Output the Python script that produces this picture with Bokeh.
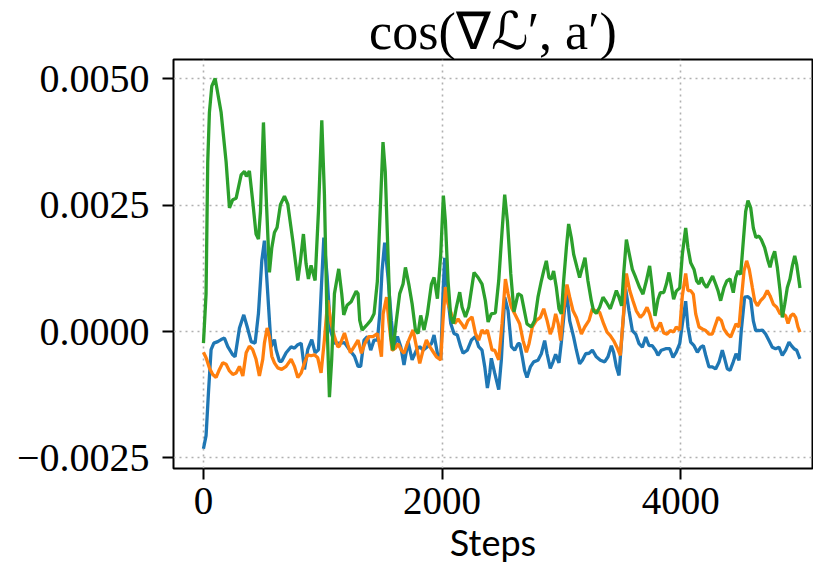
from bokeh.plotting import figure
from bokeh.models import FixedTicker, CustomJSTickFormatter, Range1d, Title
from bokeh.embed import file_html
from bokeh.resources import INLINE

title_text = "cos(\u2207\u2112\u2032, a\u2032)"
x_label = "Steps"
x_ticks = [0, 2000, 4000]
y_ticks = [-0.0025, 0.0, 0.0025, 0.005]

green_steps = [0, 22, 36, 50, 70, 98, 148, 190, 218, 246, 274, 316, 344, 360, 385, 413, 441, 461, 478, 503,
               525, 553, 573, 595, 617, 645, 679, 707, 749, 791, 813, 838, 860, 880, 902, 936, 964, 992, 1014,
               1037, 1056, 1075, 1098, 1134, 1159, 1176, 1204, 1238, 1280, 1296, 1310, 1330, 1366, 1402, 1430,
               1458, 1478, 1505, 1524, 1547, 1570, 1589, 1617, 1645, 1673, 1693, 1721, 1749, 1777, 1799, 1821,
               1849, 1877, 1911, 1933, 1961, 1989, 2011, 2028, 2050, 2073, 2095, 2120, 2148, 2168, 2196, 2224,
               2268, 2302, 2335, 2363, 2386, 2413, 2447, 2475, 2503, 2525, 2548, 2576, 2603, 2637, 2665, 2712,
               2748, 2776, 2804, 2832, 2852, 2874, 2896, 2916, 2935, 2958, 2980, 3000, 3019, 3042, 3061, 3084,
               3103, 3131, 3153, 3176, 3198, 3223, 3251, 3270, 3293, 3321, 3349, 3377, 3410, 3433, 3461, 3483,
               3505, 3522, 3545, 3567, 3595, 3623, 3656, 3684, 3712, 3740, 3762, 3785, 3810, 3830, 3858, 3880,
               3902, 3924, 3941, 3963, 3992, 4014, 4042, 4061, 4084, 4112, 4134, 4154, 4173, 4196, 4218, 4246,
               4268, 4293, 4313, 4335, 4363, 4386, 4414, 4441, 4461, 4481, 4503, 4525, 4545, 4564, 4587, 4609,
               4631, 4656, 4676, 4704, 4732, 4749, 4768, 4788, 4810, 4833, 4852, 4872, 4894, 4916, 4936, 4956,
               4972, 4992, 5000]
green = [-0.00023, 0.00075, 0.00336, 0.00434, 0.00486, 0.00501, 0.00434, 0.00336, 0.00245, 0.00261, 0.00264,
         0.00310, 0.00317, 0.00307, 0.00318, 0.00258, 0.00193, 0.00183, 0.00238, 0.00414, 0.00271, 0.00117,
         0.00166, 0.00196, 0.00206, 0.00251, 0.00268, 0.00252, 0.00180, 0.00101, 0.00140, 0.00193, 0.00134,
         0.00104, 0.00131, 0.00101, 0.00238, 0.00418, 0.00271, 0.00010, -0.00130, -0.00055, 0.00075, 0.00124,
         0.00075, 0.00033, 0.00052, 0.00059, 0.00080, 0.00075, 0.00022, 0.00003, 0.00012, 0.00022, 0.00035,
         0.00100, 0.00218, 0.00375, 0.00316, 0.00153, -0.00010, -0.00037, 0.00022, 0.00075, 0.00094, 0.00127,
         0.00094, 0.00055, 0.00003, -0.00004, 0.00032, 0.00003, 0.00035, 0.00094, 0.00107, 0.00065, 0.00153,
         0.00269, 0.00218, 0.00101, 0.00029, 0.00016, 0.00048, 0.00078, 0.00048, 0.00029, 0.00048, 0.00117,
         0.00107, 0.00094, 0.00061, 0.00019, 0.00035, 0.00037, 0.00101, 0.00199, 0.00271, 0.00218, 0.00114,
         0.00039, 0.00075, 0.00071, 0.00015, 0.00009, 0.00022, 0.00068, 0.00100, 0.00120, 0.00140, 0.00107,
         0.00104, 0.00120, 0.00087, 0.00045, 0.00035, 0.00100, 0.00166, 0.00213, 0.00185, 0.00153, 0.00127,
         0.00107, 0.00127, 0.00146, 0.00100, 0.00061, 0.00041, 0.00036, 0.00048, 0.00068, 0.00058, 0.00045,
         0.00061, 0.00081, 0.00068, 0.00051, 0.00113, 0.00182, 0.00156, 0.00123, 0.00107, 0.00087, 0.00074,
         0.00100, 0.00130, 0.00087, 0.00031, 0.00064, 0.00077, 0.00077, 0.00094, 0.00117, 0.00087, 0.00064,
         0.00080, 0.00086, 0.00153, 0.00205, 0.00166, 0.00136, 0.00123, 0.00100, 0.00094, 0.00107, 0.00094,
         0.00087, 0.00100, 0.00110, 0.00094, 0.00081, 0.00061, 0.00087, 0.00100, 0.00104, 0.00077, 0.00107,
         0.00120, 0.00113, 0.00179, 0.00238, 0.00259, 0.00245, 0.00205, 0.00186, 0.00189, 0.00182, 0.00166,
         0.00140, 0.00127, 0.00146, 0.00159, 0.00127, 0.00081, 0.00028, 0.00054, 0.00087, 0.00104, 0.00130,
         0.00150, 0.00133, 0.00100, 0.00086]

blue_steps = [0, 22, 42, 64, 87, 120, 148, 176, 204, 246, 265, 302, 338, 366, 400, 433, 461, 489, 511, 539,
              567, 595, 609, 637, 656, 693, 735, 763, 791, 819, 847, 874, 908, 936, 964, 986, 1009, 1037, 1064,
              1098, 1126, 1154, 1182, 1224, 1266, 1296, 1318, 1346, 1374, 1402, 1430, 1458, 1478, 1497, 1519,
              1547, 1575, 1598, 1626, 1654, 1681, 1715, 1749, 1785, 1813, 1841, 1877, 1911, 1933, 1961, 1989,
              2008, 2022, 2045, 2073, 2100, 2128, 2156, 2176, 2212, 2246, 2280, 2307, 2335, 2358, 2380, 2400,
              2413, 2441, 2475, 2497, 2525, 2553, 2581, 2609, 2637, 2651, 2673, 2692, 2712, 2740, 2768, 2804,
              2832, 2860, 2880, 2907, 2930, 2952, 2980, 3000, 3028, 3047, 3070, 3103, 3126, 3153, 3176, 3204,
              3232, 3260, 3293, 3327, 3363, 3391, 3419, 3438, 3461, 3483, 3511, 3539, 3567, 3595, 3623, 3651,
              3679, 3707, 3735, 3762, 3790, 3810, 3838, 3874, 3908, 3936, 3963, 3992, 4014, 4042, 4061, 4084,
              4112, 4140, 4168, 4190, 4210, 4237, 4265, 4293, 4321, 4349, 4369, 4391, 4414, 4441, 4464, 4489,
              4508, 4536, 4564, 4587, 4609, 4629, 4657, 4685, 4712, 4740, 4768, 4796, 4824, 4852, 4880, 4908,
              4928, 4950, 4972, 5000]
blue = [-0.00232, -0.00206, -0.00121, -0.00036, -0.00023, -0.00020, -0.00016, -0.00013, -0.00030, -0.00046,
        -0.00050, 0.00007, 0.00033, 0.00010, -0.00020, -0.00023, 0.00036, 0.00140, 0.00180, 0.00075, -0.00030,
        -0.00016, -0.00036, -0.00059, -0.00059, -0.00042, -0.00030, -0.00033, -0.00026, -0.00023, -0.00075,
        -0.00036, -0.00016, -0.00042, -0.00036, 0.00075, 0.00186, 0.00108, 0.00003, -0.00023, -0.00023,
        -0.00023, -0.00022, -0.00036, -0.00049, -0.00069, -0.00069, -0.00017, -0.00010, -0.00037, -0.00017,
        -0.00017, 0.00035, 0.00120, 0.00176, 0.00107, 0.00022, -0.00030, -0.00010, -0.00030, -0.00066,
        -0.00020, -0.00056, -0.00037, -0.00030, -0.00037, -0.00030, -0.00024, -0.00007, -0.00043, -0.00056,
        0.00075, 0.00146, 0.00075, 0.00016, -0.00004, -0.00007, -0.00030, -0.00043, -0.00037, -0.00017,
        -0.00010, -0.00030, -0.00037, -0.00070, -0.00112, -0.00082, -0.00053, -0.00082, -0.00115, -0.00056,
        0.00068, 0.00042, -0.00030, -0.00037, -0.00024, -0.00024, -0.00051, -0.00077, -0.00091, -0.00070,
        -0.00060, -0.00057, -0.00044, -0.00018, -0.00044, -0.00073, -0.00060, -0.00045, -0.00062, -0.00021,
        0.00048, 0.00074, 0.00021, -0.00011, -0.00037, -0.00064, -0.00057, -0.00044, -0.00043, -0.00037,
        -0.00050, -0.00057, -0.00060, -0.00050, -0.00028, -0.00041, -0.00070, -0.00087, 0.00002, 0.00084,
        0.00041, 0.00002, -0.00005, -0.00024, -0.00031, -0.00011, -0.00028, -0.00028, -0.00037, -0.00047,
        -0.00037, -0.00034, -0.00034, -0.00051, -0.00041, -0.00024, 0.00015, 0.00060, 0.00009, -0.00021,
        -0.00028, -0.00041, -0.00031, -0.00028, -0.00047, -0.00070, -0.00070, -0.00074, -0.00061, -0.00037,
        -0.00054, -0.00074, -0.00077, -0.00060, -0.00044, -0.00057, 0.00002, 0.00068, 0.00069, 0.00064,
        0.00021, 0.00002, 0.00002, 0.00003, -0.00005, -0.00018, -0.00031, -0.00034, -0.00031, -0.00047,
        -0.00037, -0.00021, -0.00028, -0.00034, -0.00037, -0.00054]

orange_steps = [0, 22, 50, 78, 106, 134, 162, 190, 218, 246, 274, 302, 330, 358, 385, 413, 441, 469, 497, 511,
                534, 553, 573, 595, 623, 656, 693, 735, 763, 791, 819, 847, 874, 902, 930, 958, 986, 1014, 1042,
                1070, 1098, 1126, 1140, 1182, 1210, 1232, 1266, 1296, 1324, 1352, 1385, 1421, 1458, 1478, 1492,
                1506, 1535, 1553, 1581, 1609, 1631, 1659, 1681, 1709, 1757, 1785, 1813, 1841, 1869, 1897, 1925,
                1953, 1989, 2008, 2028, 2050, 2078, 2106, 2134, 2162, 2190, 2218, 2251, 2280, 2307, 2335, 2358,
                2380, 2400, 2419, 2441, 2475, 2503, 2531, 2553, 2581, 2609, 2637, 2651, 2679, 2707, 2729, 2757,
                2790, 2824, 2852, 2880, 2907, 2930, 2952, 2974, 2994, 3014, 3047, 3070, 3098, 3126, 3168, 3196,
                3232, 3260, 3288, 3321, 3355, 3383, 3410, 3438, 3466, 3494, 3517, 3545, 3573, 3600, 3628, 3662,
                3690, 3718, 3740, 3768, 3796, 3830, 3858, 3885, 3913, 3941, 3963, 3992, 4014, 4042, 4061, 4084,
                4106, 4126, 4154, 4182, 4210, 4237, 4265, 4285, 4313, 4341, 4363, 4391, 4419, 4441, 4464, 4489,
                4508, 4531, 4553, 4575, 4601, 4620, 4643, 4670, 4698, 4726, 4749, 4777, 4805, 4833, 4852, 4880,
                4900, 4922, 4944, 4964, 4983, 5000]
orange = [-0.00041, -0.00052, -0.00072, -0.00085, -0.00091, -0.00075, -0.00062, -0.00065, -0.00078, -0.00085,
          -0.00082, -0.00069, -0.00088, -0.00042, -0.00029, -0.00036, -0.00055, -0.00088, -0.00055, -0.00023,
          0.00007, -0.00010, -0.00049, -0.00062, -0.00072, -0.00075, -0.00069, -0.00055, -0.00069, -0.00091,
          -0.00082, -0.00062, -0.00046, -0.00048, -0.00046, -0.00052, -0.00082, -0.00016, 0.00062, 0.00016,
          -0.00010, -0.00030, -0.00029, -0.00003, -0.00026, -0.00042, -0.00029, -0.00017, -0.00043, -0.00024,
          -0.00010, -0.00010, -0.00004, -0.00030, -0.00050, 0.00035, 0.00068, 0.00022, -0.00037, -0.00033,
          -0.00024, -0.00037, -0.00043, -0.00024, 0.00003, -0.00030, -0.00063, -0.00037, -0.00017, -0.00030,
          -0.00040, -0.00050, -0.00056, 0.00022, 0.00088, 0.00055, 0.00035, 0.00016, 0.00025, 0.00016, 0.00006,
          0.00022, 0.00029, -0.00004, -0.00017, 0.00003, -0.00004, 0.00003, -0.00017, -0.00037, -0.00037,
          -0.00056, 0.00016, 0.00104, 0.00075, 0.00048, 0.00035, 0.00022, 0.00015, -0.00018, -0.00041,
          -0.00024, 0.00009, 0.00022, 0.00028, 0.00045, 0.00022, -0.00005, 0.00009, 0.00035, 0.00015, -0.00018,
          0.00035, 0.00093, 0.00068, 0.00041, 0.00028, -0.00005, 0.00009, 0.00022, 0.00045, 0.00041, 0.00038,
          0.00015, -0.00001, -0.00008, -0.00018, -0.00031, -0.00047, 0.00022, 0.00115, 0.00081, 0.00061,
          0.00041, 0.00028, 0.00035, 0.00048, 0.00035, 0.00009, 0.00002, 0.00018, -0.00003, -0.00005, 0.00002,
          -0.00001, 0.00009, 0.00003, 0.00071, 0.00115, 0.00081, 0.00081, 0.00074, 0.00035, 0.00009, 0.00005,
          0.00002, -0.00005, -0.00005, 0.00009, 0.00028, 0.00022, 0.00005, -0.00005, -0.00011, 0.00002,
          0.00015, 0.00009, 0.00061, 0.00120, 0.00140, 0.00123, 0.00087, 0.00061, 0.00051, 0.00061, 0.00068,
          0.00081, 0.00071, 0.00054, 0.00048, 0.00035, 0.00036, 0.00031, 0.00016, 0.00031, 0.00035, 0.00028,
          0.00009, -0.00001]

p = figure(width=813, height=566, output_backend="svg", toolbar_location=None,
           x_range=Range1d(-251, 5105), y_range=Range1d(-0.002712, 0.005386),
           min_border_left=173, min_border_right=1, min_border_top=56, min_border_bottom=97)

p.title = Title(text=title_text, align="center", text_font="Liberation Serif",
                text_font_size="52px", text_font_style="normal", text_color="black", standoff=0)

p.line(blue_steps, blue, line_color="#1f77b4", line_width=3.3)
p.line(orange_steps, orange, line_color="#ff7f0e", line_width=3.3)
p.line(green_steps, green, line_color="#2ca02c", line_width=3.3)

p.outline_line_color = "black"
p.outline_line_width = 2
p.background_fill_color = "white"
p.border_fill_color = "white"

for g in (p.xgrid[0], p.ygrid[0]):
    g.grid_line_color = "#b0b0b0"
    g.grid_line_width = 1.6
    g.grid_line_dash = "2 4"

p.xaxis.ticker = FixedTicker(ticks=x_ticks)
p.yaxis.ticker = FixedTicker(ticks=y_ticks)
p.xgrid.ticker = FixedTicker(ticks=x_ticks)
p.ygrid.ticker = FixedTicker(ticks=y_ticks)
p.yaxis.formatter = CustomJSTickFormatter(code="return tick.toFixed(4).replace('-', '\u2212');")

for ax in (p.xaxis[0], p.yaxis[0]):
    ax.axis_line_color = None
    ax.major_tick_line_color = "black"
    ax.major_tick_line_width = 2
    ax.major_tick_out = 11
    ax.major_tick_in = 0
    ax.minor_tick_line_color = None
    ax.major_label_text_font = "Liberation Serif"
    ax.major_label_text_color = "black"

p.yaxis.major_label_text_font_size = "40px"
p.xaxis.major_label_text_font_size = "39px"
p.yaxis.major_label_standoff = 13
p.xaxis.major_label_standoff = 8
p.xaxis.axis_label = x_label
p.xaxis.axis_label_text_font = "Lato"
p.xaxis.axis_label_text_font_size = "36px"
p.xaxis.axis_label_text_font_style = "normal"
p.xaxis.axis_label_text_color = "black"
p.xaxis.axis_label_standoff = 3

open("out.html", "w").write(file_html(p, INLINE))
